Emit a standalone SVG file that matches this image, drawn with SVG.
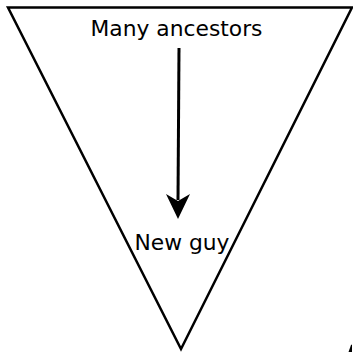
<svg xmlns="http://www.w3.org/2000/svg" width="353" height="352" viewBox="0 0 353 352">
<style>
.shape{fill:#fff;stroke:#000;stroke-width:2.5;stroke-linejoin:miter}
.lbl{font-family:"DejaVu Sans",sans-serif;font-size:21.8px;fill:#000;text-anchor:middle}
.conn{stroke:#000;stroke-width:3;fill:none}
</style>
<g id="triangle">
<polygon class="shape" points="8,7.5 352,7.5 181,349"/>
</g>
<g id="many-ancestors">
<text class="lbl" x="176.5" y="36">Many ancestors</text>
</g>
<g id="new-guy">
<text class="lbl" x="182" y="250">New guy</text>
</g>
<g id="connectors">
<line class="conn" x1="179" y1="48" x2="178" y2="200"/>
<path d="M178,219 L166,194 L178,201 L190,194 Z" fill="#000"/>
</g>
<g id="fragment">
<polygon points="348.5,352 352,352 352,344.5 351,345" fill="#000"/>
</g>
</svg>
